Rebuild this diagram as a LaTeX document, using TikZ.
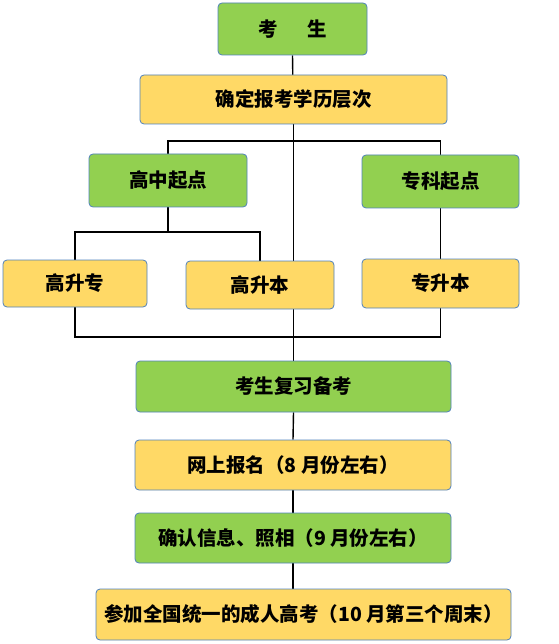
\documentclass[tikz,border=0pt]{standalone}
\usepackage{fontspec}
\newfontfamily\cjk{Noto Sans CJK SC}
\usepackage{tikz}
\usetikzlibrary{backgrounds}
\definecolor{boxgreen}{RGB}{146,208,80}
\definecolor{boxyellow}{RGB}{255,217,102}
\definecolor{boxline}{RGB}{79,129,189}

\begin{document}
\begin{tikzpicture}[x=1pt,y=-1pt,
  box/.style={draw=boxline,line width=0.8pt,rounded corners=4pt,inner sep=0pt,
    font=\cjk\bfseries\fontsize{19.5}{21}\selectfont},
  greenbox/.style={box,fill=boxgreen},
  yellowbox/.style={box,fill=boxyellow},
  link/.style={line width=1.4pt,black}]
\useasboundingbox (0,0) rectangle (558,644);
\node[greenbox,minimum width=149pt,minimum height=52pt] (kaosheng) at (292.5,29) {考\hspace{30pt}生};
\node[yellowbox,minimum width=307pt,minimum height=49pt] (queding) at (293.5,99.5) {确定报考学历层次};
\node[greenbox,minimum width=158pt,minimum height=53pt] (gaozhong) at (168,180.5) {高中起点};
\node[greenbox,minimum width=157pt,minimum height=53pt] (zhuanke) at (440.5,181.5) {专科起点};
\node[yellowbox,minimum width=144pt,minimum height=47pt] (gaozhuan) at (75,283.5) {高升专};
\node[yellowbox,minimum width=148pt,minimum height=48pt] (gaoben) at (260,285) {高升本};
\node[yellowbox,minimum width=157pt,minimum height=49pt] (zhuanben) at (440.5,283.5) {专升本};
\node[greenbox,minimum width=315pt,minimum height=51pt] (fuxi) at (293.5,386.5) {考生复习备考};
\node[yellowbox,minimum width=316pt,minimum height=50pt] (baoming) at (293,465) {网上报名（8 月份左右）};
\node[greenbox,minimum width=316pt,minimum height=50pt] (queren) at (293,538) {确认信息、照相（9 月份左右）};
\node[yellowbox,minimum width=415pt,minimum height=51pt] (canjia) at (303.5,614.5) {参加全国统一的成人高考（10 月第三个周末）};
\coordinate (upbar) at (293,141);
\coordinate (midbar) at (168,232);
\coordinate (lowbar) at (293,337);
\begin{scope}[on background layer]
\draw[link] (kaosheng.south) -- (queding.south);
\draw[link] (queding.south) -- (fuxi.north);
\draw[link] (gaozhong.north) |- (upbar) -| (zhuanke.north);
\draw[link] (gaozhong.south) -- (midbar);
\draw[link] (gaozhuan.north) |- (midbar) -| (gaoben.north);
\draw[link] (zhuanke.south) -- (zhuanben.north);
\draw[link] (gaozhuan.south) |- (lowbar) -| (zhuanben.south);
\draw[link] (fuxi.south) -- (baoming.north);
\draw[link] (baoming.south) -- (queren.north);
\draw[link] (queren.south) -- (queren.south |- canjia.north);
\end{scope}
\end{tikzpicture}
\end{document}
